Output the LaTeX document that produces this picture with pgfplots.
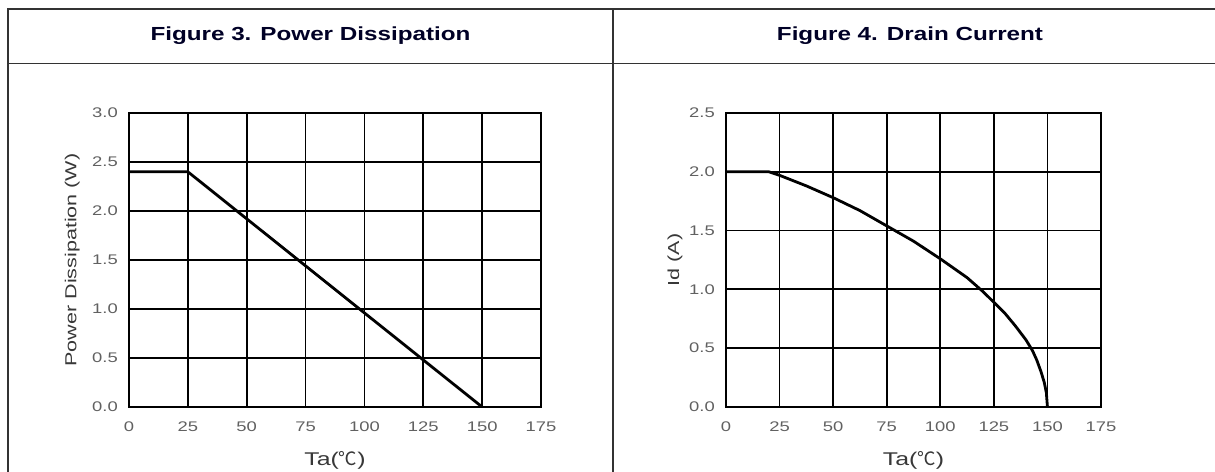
\documentclass[border=0pt]{standalone}
\usepackage{pgfplots}
\pgfplotsset{compat=1.18}
\usepackage{fontspec}
\setmainfont{Liberation Sans}
\newfontfamily\hdrfont{Liberation Sans}[FakeStretch=1.28]
\newfontfamily\tickfont{Liberation Sans}[FakeStretch=1.32]
\newfontfamily\labfont{Liberation Sans}[FakeStretch=1.35]
\newfontfamily\cjk{Noto Sans CJK SC}
\begin{document}
\begin{tikzpicture}[x=1bp,y=1bp]
\path[use as bounding box] (0,0) rectangle (1215,472);
\draw[line width=1.8bp, black!80] (8,0) -- (8,463) -- (1215,463);
\draw[line width=1.8bp, black!80] (8,408.5) -- (1215,408.5);
\draw[line width=1.8bp, black!80] (613,0) -- (613,463);
\node[font=\hdrfont\fontsize{19}{22}\selectfont\bfseries, text=black!85!blue] at (310.5,436) {Figure 3. Power Dissipation};
\node[font=\hdrfont\fontsize{19}{22}\selectfont\bfseries, text=black!85!blue] at (910,436) {Figure 4. Drain Current};
\pgfplotsset{myax/.style={
  scale only axis, height=294bp,
  xmin=0, xmax=175, xtick={0,25,...,175}, ymin=0,
  grid=major, major grid style={black, line width=1.8bp},
  axis line style={black, line width=1.8bp},
  tick style={draw=none},
  /pgf/number format/assume math mode=true,
  ticklabel style={font=\tickfont\fontsize{14}{16}\selectfont, text=black!62},
  xticklabel style={anchor=center, yshift=-20bp},
  yticklabel style={anchor=east, inner sep=0pt, xshift=-11bp, /pgf/number format/.cd, fixed, fixed zerofill, precision=1},
  label style={font=\labfont\fontsize{16}{18}\selectfont, text=black!78},
  xlabel={Ta({\cjk ℃})},
  xlabel style={at={(axis description cs:0.5,-0.180)}, anchor=center, font=\labfont\fontsize{18.5}{20}\selectfont},
}}
\begin{axis}[myax, at={(129bp,65bp)}, anchor=south west, width=412bp,
  ymax=3, ytick={0,0.5,...,3},
  ylabel={Power Dissipation (W)},
  ylabel style={at={(axis description cs:-0.138,0.5)}, anchor=center}]
\addplot[black, line width=2.8bp] coordinates {(0,2.4) (25,2.4) (150,0)};
\end{axis}
\begin{axis}[myax, at={(726bp,65bp)}, anchor=south west, width=375bp,
  ymax=2.5, ytick={0,0.5,...,2.5},
  ylabel={Id (A)},
  ylabel style={at={(axis description cs:-0.136,0.5)}, anchor=center}]
\addplot[black, line width=2.8bp] coordinates {
(0,2.0) (20,2.0) (25,1.97) (37.5,1.88) (50,1.78) (62.5,1.67) (75,1.54)
(87.5,1.41) (100,1.26) (112.5,1.10) (120,0.98) (125,0.89) (130,0.80) (135,0.69)
(140,0.57) (143,0.48) (145,0.40) (147,0.30) (148.5,0.21) (149.5,0.12) (150,0)};
\end{axis}
\end{tikzpicture}
\end{document}
